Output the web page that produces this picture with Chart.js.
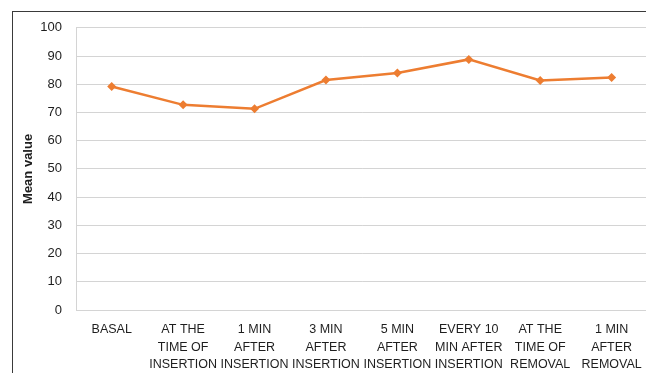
<!DOCTYPE html>
<html lang="en">
<head>
  <meta charset="UTF-8">
  <title>Mean value over time</title>
  <style>
    html, body {
      margin: 0;
      padding: 0;
      background: #ffffff;
      overflow: hidden;
      width: 646px;
      height: 373px;
    }
    .frame {
      position: absolute;
      left: 12px;
      top: 11px;
      width: 660px;
      height: 380px;
      border-left: 1px solid #3a3a3a;
      border-top: 1px solid #3a3a3a;
      overflow: hidden;
    }
    #meanChart {
      display: block;
      margin-top: -6px;
    }
  </style>
</head>
<body>
  <div class="frame">
    <canvas id="meanChart" width="640" height="367"></canvas>
  </div>

  <script src="https://cdn.jsdelivr.net/npm/chart.js"></script>
  <script>
    // time points (one label line per array entry)
    const timePoints = [
      ['BASAL'],
      ['AT THE', 'TIME OF', 'INSERTION'],
      ['1 MIN', 'AFTER', 'INSERTION'],
      ['3 MIN', 'AFTER', 'INSERTION'],
      ['5 MIN', 'AFTER', 'INSERTION'],
      ['EVERY 10', 'MIN AFTER', 'INSERTION'],
      ['AT THE', 'TIME OF', 'REMOVAL'],
      ['1 MIN', 'AFTER', 'REMOVAL']
    ];
    const meanValues = [79.2, 72.7, 71.3, 81.5, 84.0, 88.8, 81.3, 82.4];

    const yMin = 0;
    const yMax = 100;
    const yStep = 10;

    const gridColor = '#d4d4d4';
    const lineColor = '#ed7d31';
    const textColor = '#1e1e1e';
    const fontFamily = "'Liberation Sans', Arial, sans-serif";

    new Chart(document.getElementById('meanChart'), {
      type: 'line',
      data: {
        labels: timePoints,
        datasets: [{
          label: 'Mean value',
          data: meanValues,
          borderColor: lineColor,
          backgroundColor: lineColor,
          borderWidth: 2.5,
          tension: 0,
          fill: false,
          pointStyle: 'rectRot',
          pointRadius: 4.5,
          pointBorderWidth: 0,
          pointBackgroundColor: lineColor
        }]
      },
      options: {
        responsive: false,
        animation: false,
        layout: {
          padding: { top: 9, right: 0, bottom: 0, left: 0 }
        },
        plugins: {
          legend: { display: false },
          tooltip: { enabled: false }
        },
        scales: {
          x: {
            offset: true,
            grid: { display: false, drawTicks: false },
            border: { color: gridColor, width: 1 },
            ticks: {
              color: textColor,
              padding: 11,
              maxRotation: 0,
              autoSkip: false,
              font: { family: fontFamily, size: 12.5, lineHeight: 1.4 }
            },
            afterFit: scale => { scale.height = 63; }
          },
          y: {
            min: yMin,
            max: yMax,
            grid: { color: gridColor, lineWidth: 1, drawTicks: false },
            border: { color: gridColor, width: 1 },
            ticks: {
              stepSize: yStep,
              color: textColor,
              padding: 14,
              font: { family: fontFamily, size: 13 }
            },
            title: {
              display: true,
              text: 'Mean value',
              color: textColor,
              padding: { top: 8, bottom: 4 },
              font: { family: fontFamily, size: 13, weight: 'bold' }
            },
            afterFit: scale => { scale.width = 63; }
          }
        }
      }
    });
  </script>
</body>
</html>
